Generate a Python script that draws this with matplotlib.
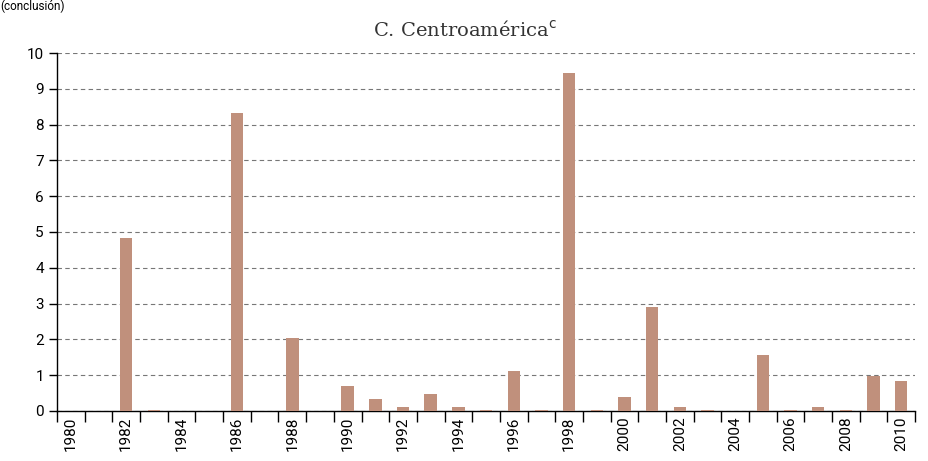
import matplotlib
matplotlib.use('Agg')
import matplotlib.pyplot as plt
import numpy as np

years = list(range(1980, 2011))
values = [0, 0, 4.83, 0.03, 0, 0, 8.32, 0, 2.03, 0,
          0.69, 0.33, 0.12, 0.48, 0.12, 0.03, 1.12, 0.03, 9.45, 0.03,
          0.40, 2.90, 0.12, 0.03, 0, 1.55, 0.03, 0.12, 0.03, 0.98,
          0.83]
yticks = list(range(0, 11))
bar_color = '#c0907c'

plt.rcParams['font.family'] = ['Roboto', 'DejaVu Sans']

fig = plt.figure(figsize=(9.29, 4.61), dpi=100)
ax = fig.add_axes([0.0614, 0.1085, 0.9236, 0.7765])

x = np.arange(len(years))
ax.bar(x, values, width=0.45, color=bar_color, zorder=3)

ax.set_xlim(-0.5, len(years) - 0.5)
ax.set_ylim(0, 10)
ax.set_yticks(yticks)
ax.set_yticklabels([str(v) for v in yticks], fontsize=11)
ax.yaxis.grid(True, linestyle=(0, (4, 3)), color='#777777', linewidth=0.8, zorder=0)

# ticks at category boundaries, labels every other year at the centre
ax.set_xticks(np.arange(-0.5, len(years), 1.0))
ax.set_xticklabels([])
ax.set_xticks(x[::2], minor=True)
ax.set_xticklabels([str(y) for y in years[::2]], minor=True, rotation=90, fontsize=11)
ax.tick_params(axis='x', which='major', length=8, width=1, color='black', direction='out')
ax.tick_params(axis='x', which='minor', length=0, pad=4)
ax.tick_params(axis='y', length=6, width=1, direction='out')

for side in ['top', 'right']:
    ax.spines[side].set_visible(False)
ax.spines['left'].set_linewidth(1)
ax.spines['bottom'].set_linewidth(1)

fig.text(0.5, 0.935, 'C. Centroamérica$^{\\mathrm{c}}$', ha='center', va='center',
         fontsize=14, family='DejaVu Serif', color='#333333')
fig.text(0.0, 1.0, '(conclusión)', ha='left', va='top', fontsize=8.5)

fig.savefig('out.png', dpi=100)
